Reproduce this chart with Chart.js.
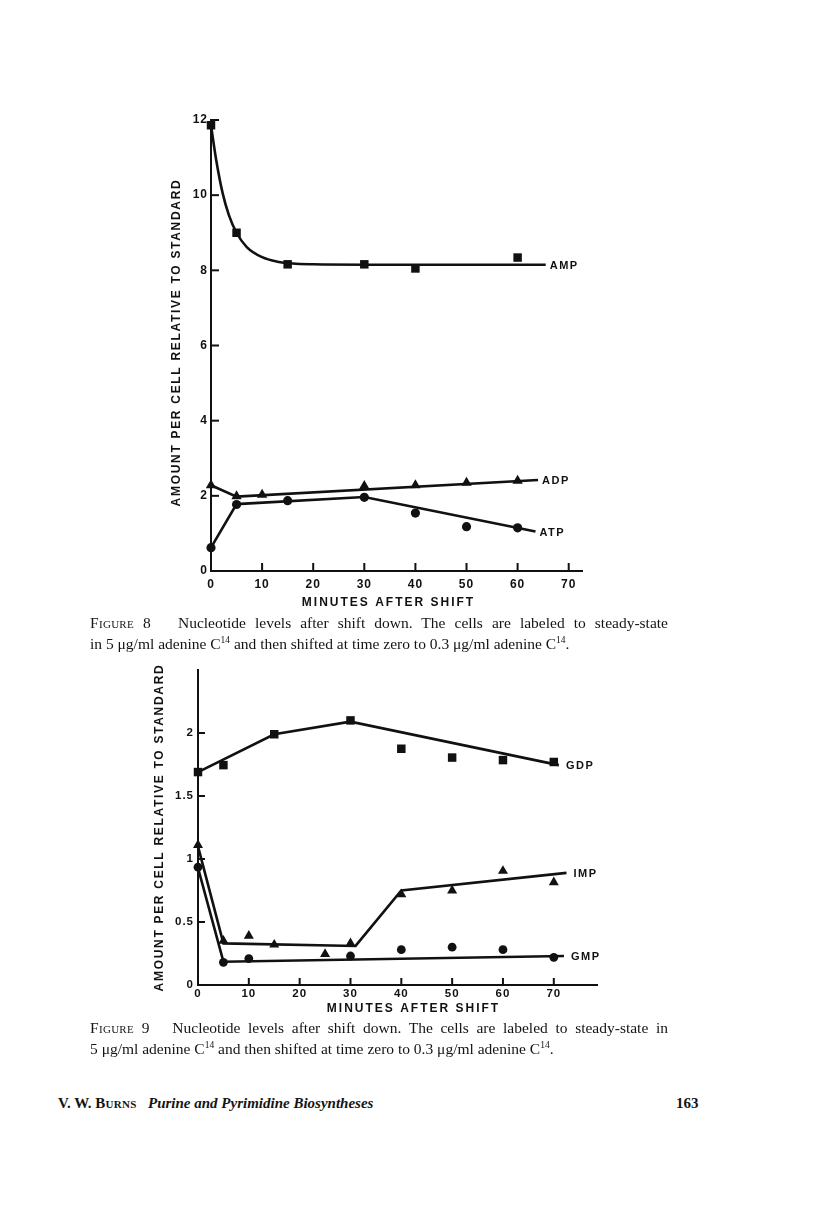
<!DOCTYPE html>
<html>
<head>
<meta charset="utf-8">
<script src="https://cdn.jsdelivr.net/npm/chart.js@4.4.1/dist/chart.umd.min.js"></script>
<style>
  body { margin: 0; background: #fff; width: 816px; height: 1229px; position: relative; overflow: hidden; }
  .box { position: absolute; }
  .cap { position: absolute; left: 90px; width: 578px; font-family: "Liberation Serif", serif; font-size: 15.5px; line-height: 17.5px; color: #141414; }
  .cap .l1 { text-align: justify; text-align-last: justify; }
  .sc { font-variant: small-caps; letter-spacing: 0.3px; }
  .foot { position: absolute; top: 1095px; font-family: "Liberation Serif", serif; font-size: 15px; font-weight: bold; color: #141414; }
</style>
</head>
<body>

<div class="box" style="left:130px; top:100px; width:480px; height:520px;"><canvas id="fig8"></canvas></div>
<div class="cap" style="top:614px;">
  <div class="l1"><span class="sc">Figure</span> 8&nbsp;&nbsp; Nucleotide levels after shift down. The cells are labeled to steady-state</div>
  <div>in 5 μg/ml adenine C<sup style="font-size:9.5px">14</sup> and then shifted at time zero to 0.3 μg/ml adenine C<sup style="font-size:9.5px">14</sup>.</div>
</div>

<div class="box" style="left:120px; top:650px; width:500px; height:380px;"><canvas id="fig9"></canvas></div>
<div class="cap" style="top:1019px;">
  <div class="l1"><span class="sc">Figure</span> 9&nbsp;&nbsp; Nucleotide levels after shift down. The cells are labeled to steady-state in</div>
  <div>5 μg/ml adenine C<sup style="font-size:9.5px">14</sup> and then shifted at time zero to 0.3 μg/ml adenine C<sup style="font-size:9.5px">14</sup>.</div>
</div>

<div class="foot" style="left:58px;">V. W. <span class="sc">Burns</span>&nbsp;&nbsp; <i>Purine and Pyrimidine Biosyntheses</i></div>
<div class="foot" style="left:676px;">163</div>

<script>
// ---- Figure 8 data ----
const xTicks8 = [0, 10, 20, 30, 40, 50, 60, 70];
const yTicks8 = [0, 2, 4, 6, 8, 10, 12];
const yLabels8 = ["0", "2", "4", "6", "8", "10", "12"];

const ampMin = [0, 5, 15, 30, 40, 60];
const ampVal = [11.86, 9.0, 8.16, 8.16, 8.05, 8.34];
const ampFitMin = [0, 1, 2.3, 3.5, 5, 7, 10, 13, 16, 20, 30, 65.5];
const ampFitVal = [11.86, 10.95, 10.04, 9.47, 9.0, 8.62, 8.35, 8.23, 8.18, 8.16, 8.15, 8.15];

const adpMin = [0, 5, 10, 30, 40, 50, 60];
const adpVal = [2.28, 1.99, 2.03, 2.26, 2.28, 2.35, 2.40];
const adpFitMin = [0, 5, 64];
const adpFitVal = [2.28, 1.98, 2.42];

const atpMin = [0, 5, 15, 30, 40, 50, 60];
const atpVal = [0.62, 1.77, 1.87, 1.96, 1.54, 1.18, 1.15];
const atpFitMin = [0, 5, 30, 63.5];
const atpFitVal = [0.62, 1.78, 1.97, 1.05];

// ---- Figure 9 data ----
const xTicks9 = [0, 10, 20, 30, 40, 50, 60, 70];
const yTicks9 = [0, 0.5, 1, 1.5, 2];
const yLabels9 = ["0", "0.5", "1", "1.5", "2"];

const gdpMin = [0, 5, 15, 30, 40, 50, 60, 70];
const gdpVal = [1.69, 1.745, 1.99, 2.10, 1.875, 1.805, 1.785, 1.77];
const gdpFitMin = [0, 15, 30, 71];
const gdpFitVal = [1.69, 1.99, 2.09, 1.745];

const impMin = [0, 5, 10, 15, 25, 30, 40, 50, 60, 70];
const impVal = [1.11, 0.35, 0.39, 0.32, 0.245, 0.33, 0.72, 0.75, 0.905, 0.815];
const impFitMin = [0, 5, 31, 40, 72.5];
const impFitVal = [1.1, 0.33, 0.31, 0.75, 0.89];

const gmpMin = [0, 5, 10, 30, 40, 50, 60, 70];
const gmpVal = [0.935, 0.18, 0.21, 0.23, 0.28, 0.30, 0.28, 0.22];
const gmpFitMin = [0, 5, 72];
const gmpFitVal = [0.93, 0.185, 0.23];

const INK = "#111111";
const SANS = "'Liberation Sans', Arial, sans-serif";

function pairs(xs, ys) {
  return xs.map((x, i) => ({ x: x, y: ys[i] }));
}

function marks(xs, ys, style, r) {
  return {
    data: pairs(xs, ys),
    showLine: false,
    pointStyle: style,
    pointRadius: r,
    pointBackgroundColor: INK,
    pointBorderColor: INK,
    pointBorderWidth: 0,
    clip: false,
  };
}

function fit(xs, ys, label, smooth) {
  return {
    data: pairs(xs, ys),
    showLine: true,
    pointRadius: 0,
    borderColor: INK,
    borderWidth: 2.6,
    cubicInterpolationMode: smooth ? "monotone" : "default",
    tension: 0,
    clip: false,
    endLabel: label,
  };
}

// old-paper style axes: inward ticks, spaced caps titles, labels at line ends
const paperAxes = {
  id: "paperAxes",
  beforeDraw(chart) {
    chart.ctx.letterSpacing = "1px";
  },
  afterDraw(chart, args, opts) {
    const ctx = chart.ctx;
    const area = chart.chartArea;
    const xs = chart.scales.x;
    const ys = chart.scales.y;
    ctx.save();
    ctx.strokeStyle = INK;
    ctx.lineWidth = 2;
    xs.ticks.forEach((t) => {
      if (t.value === 0) return;
      const px = xs.getPixelForValue(t.value);
      ctx.beginPath();
      ctx.moveTo(px, area.bottom);
      ctx.lineTo(px, area.bottom - opts.tickLen);
      ctx.stroke();
    });
    ys.ticks.forEach((t) => {
      if (t.value === 0) return;
      const py = ys.getPixelForValue(t.value);
      ctx.beginPath();
      ctx.moveTo(area.left, py);
      ctx.lineTo(area.left + opts.tickLen, py);
      ctx.stroke();
    });

    ctx.fillStyle = INK;
    ctx.textBaseline = "middle";
    ctx.font = "bold 12px " + SANS;
    ctx.letterSpacing = "2px";
    ctx.textAlign = "center";
    ctx.fillText(opts.xTitle, (area.left + area.right) / 2 + opts.xTitleDx, area.bottom + opts.xTitleDy);

    ctx.save();
    ctx.letterSpacing = "1.7px";
    ctx.translate(area.left + opts.yTitleDx, (area.top + area.bottom) / 2 + opts.yTitleDy);
    ctx.rotate(-Math.PI / 2);
    ctx.fillText(opts.yTitle, 0, 0);
    ctx.restore();

    ctx.font = "bold 11px " + SANS;
    ctx.letterSpacing = "1.5px";
    ctx.textAlign = "left";
    chart.data.datasets.forEach((ds, i) => {
      if (!ds.endLabel) return;
      const pts = chart.getDatasetMeta(i).data;
      const last = pts[pts.length - 1];
      ctx.fillText(ds.endLabel, last.x + opts.labelGap, last.y + 1);
    });
    ctx.restore();
    ctx.letterSpacing = "0px";
  },
};

function makeChart(id, cfg) {
  return new Chart(document.getElementById(id), {
    type: "scatter",
    data: { datasets: cfg.datasets },
    options: {
      responsive: true,
      maintainAspectRatio: false,
      animation: false,
      devicePixelRatio: 1,
      layout: { padding: cfg.padding },
      plugins: {
        legend: { display: false },
        tooltip: { enabled: false },
        paperAxes: cfg.axes,
      },
      scales: {
        x: {
          type: "linear",
          min: 0,
          max: cfg.xMax,
          grid: { display: false, drawTicks: false },
          border: { display: true, color: INK, width: 2 },
          afterBuildTicks: (s) => { s.ticks = cfg.xTicks.map((v) => ({ value: v })); },
          afterFit: (s) => { s.height = cfg.xHeight; },
          ticks: {
            color: INK,
            padding: cfg.xPad,
            maxRotation: 0,
            autoSkip: false,
            font: { family: SANS, size: cfg.tickSize, weight: "bold" },
            callback: (v) => String(v),
          },
        },
        y: {
          type: "linear",
          min: 0,
          max: cfg.yMax,
          grid: { display: false, drawTicks: false },
          border: { display: true, color: INK, width: 2 },
          afterBuildTicks: (s) => { s.ticks = cfg.yTicks.map((v) => ({ value: v })); },
          afterFit: (s) => { s.width = cfg.yWidth; },
          ticks: {
            color: INK,
            padding: cfg.yPad,
            autoSkip: false,
            font: { family: SANS, size: cfg.tickSize, weight: "bold" },
            callback: (v, i) => cfg.yLabels[i],
          },
        },
      },
    },
    plugins: [paperAxes],
  });
}

makeChart("fig8", {
  datasets: [
    fit(ampFitMin, ampFitVal, "AMP", true),
    fit(adpFitMin, adpFitVal, "ADP", false),
    fit(atpFitMin, atpFitVal, "ATP", false),
    marks(ampMin, ampVal, "rect", 6),
    marks(adpMin, adpVal, "triangle", 6),
    marks(atpMin, atpVal, "circle", 4.6),
  ],
  padding: { left: 0, top: 20, right: 28, bottom: 0 },
  xMax: 72.6,
  yMax: 12,
  xTicks: xTicks8,
  yTicks: yTicks8,
  yLabels: yLabels8,
  xHeight: 49,
  yWidth: 81,
  xPad: 6,
  yPad: 3,
  tickSize: 12,
  axes: {
    tickLen: 8,
    labelGap: 4,
    xTitle: "MINUTES AFTER SHIFT",
    xTitleDx: -8,
    xTitleDy: 32,
    yTitle: "AMOUNT PER CELL RELATIVE TO STANDARD",
    yTitleDx: -34,
    yTitleDy: -3,
  },
});

makeChart("fig9", {
  datasets: [
    fit(gdpFitMin, gdpFitVal, "GDP", false),
    fit(impFitMin, impFitVal, "IMP", false),
    fit(gmpFitMin, gmpFitVal, "GMP", false),
    marks(gdpMin, gdpVal, "rect", 6),
    marks(impMin, impVal, "triangle", 5.8),
    marks(gmpMin, gmpVal, "circle", 4.4),
  ],
  padding: { left: 0, top: 20, right: 23, bottom: 0 },
  xMax: 78.5,
  yMax: 2.5,
  xTicks: xTicks9,
  yTicks: yTicks9,
  yLabels: yLabels9,
  xHeight: 45,
  yWidth: 78,
  xPad: 2,
  yPad: 4,
  tickSize: 11.5,
  axes: {
    tickLen: 7,
    labelGap: 7,
    xTitle: "MINUTES AFTER SHIFT",
    xTitleDx: 16,
    xTitleDy: 24,
    yTitle: "AMOUNT PER CELL RELATIVE TO STANDARD",
    yTitleDx: -38,
    yTitleDy: 0,
  },
});
</script>
</body>
</html>
